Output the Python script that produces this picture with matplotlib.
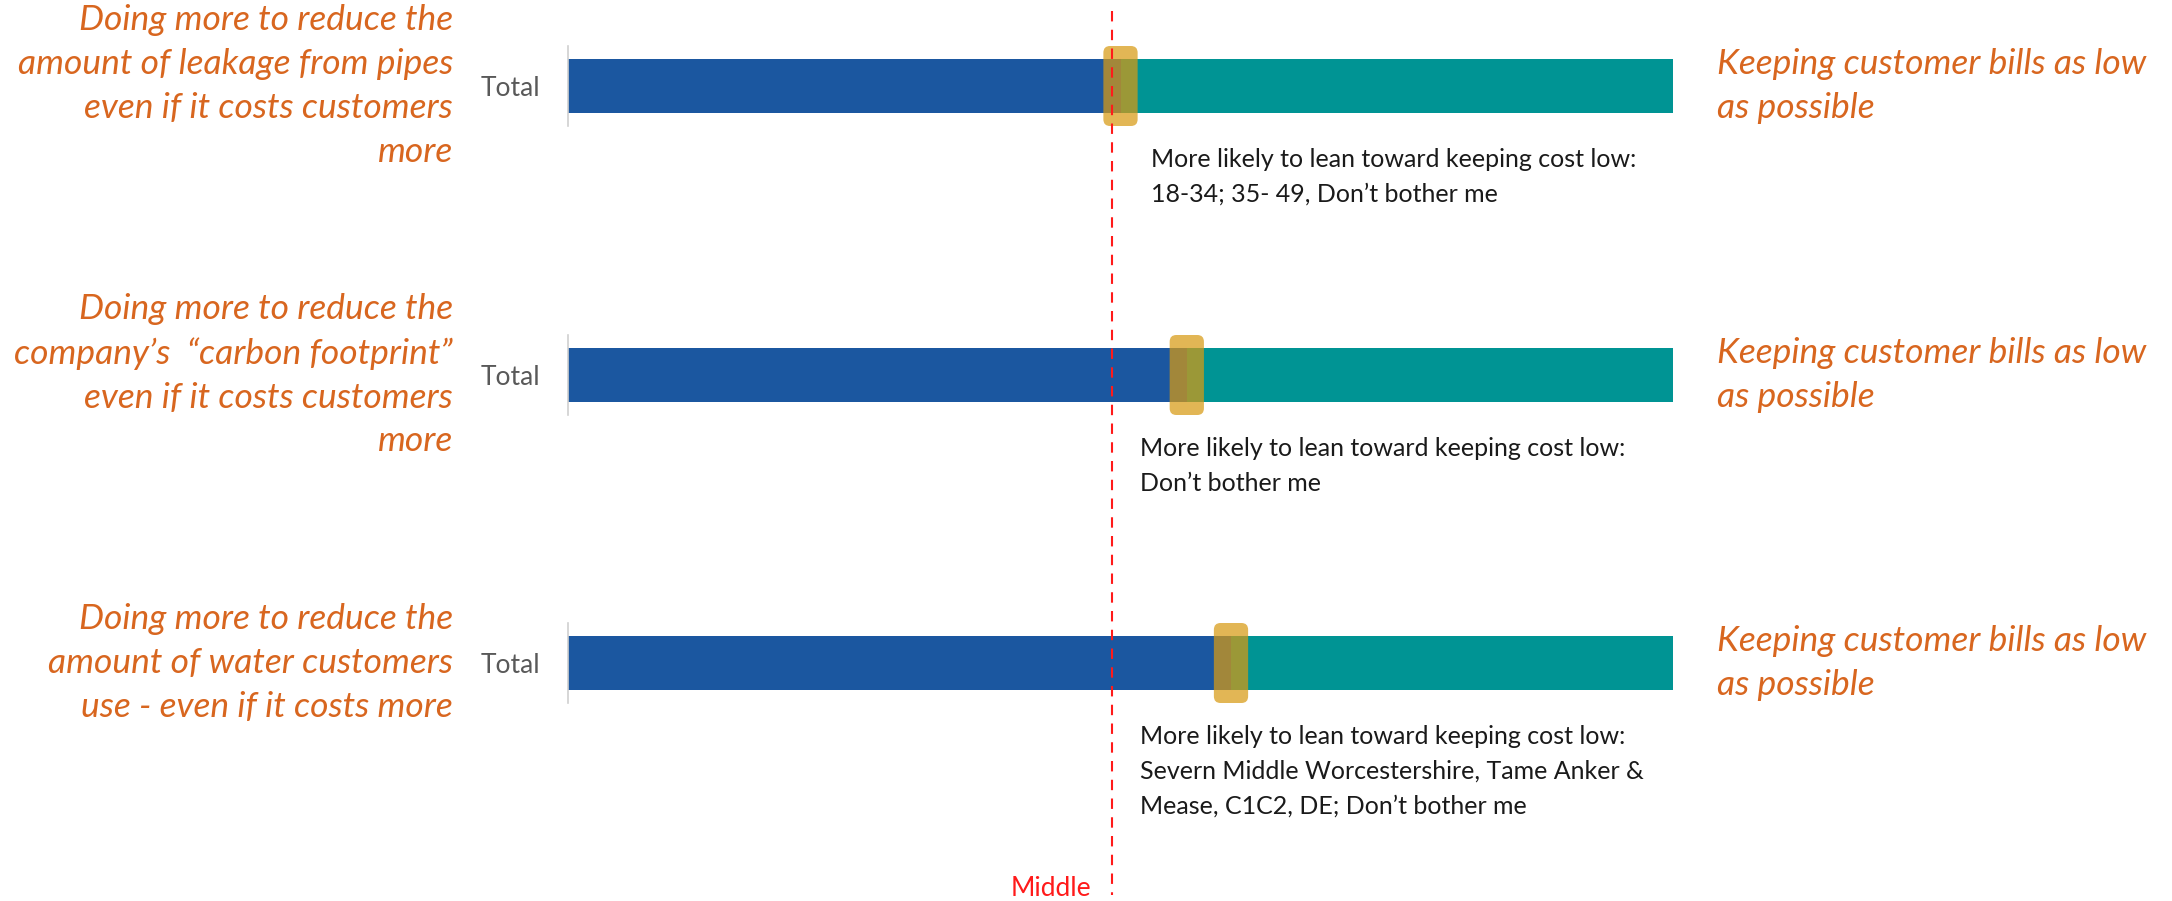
import matplotlib
matplotlib.use("Agg")
import matplotlib.pyplot as plt
from matplotlib.patches import FancyBboxPatch
from matplotlib.lines import Line2D
import matplotlib.transforms as mtransforms

plt.rcParams['font.family'] = ['Lato', 'DejaVu Sans']

# data
left_labels = [
    "Doing more to reduce the\namount of leakage from pipes\neven if it costs customers\nmore",
    "Doing more to reduce the\ncompany\u2019s  \u201ccarbon footprint\u201d\neven if it costs customers\nmore",
    "Doing more to reduce the\namount of water customers\nuse - even if it costs more",
]
right_label = "Keeping customer bills as low\nas possible"
notes = [
    "More likely to lean toward keeping cost low:\n18-34; 35- 49, Don\u2019t bother me",
    "More likely to lean toward keeping cost low:\nDon\u2019t bother me",
    "More likely to lean toward keeping cost low:\nSevern Middle Worcestershire, Tame Anker &\nMease, C1C2, DE; Don\u2019t bother me",
]
reduce_share = [50, 56, 60]      # blue part (%)
bills_share = [50, 44, 40]       # teal part (%)
middle_value = 49.2

BLUE = "#1B57A0"
TEAL = "#009494"
MARK = "#D89A13"
ORANGE = "#D8661F"

W, H = 2172, 901
fig = plt.figure(figsize=(W / 100, H / 100), dpi=100)

centers = [86, 375, 663]          # bar centres in pixels from top
ax_h = 80
ax_left, ax_w = 568, 1105
note_x = [1151, 1140, 1140]

axes = []
for i, c in enumerate(centers):
    ax = fig.add_axes([ax_left / W, (H - c - ax_h / 2) / H, ax_w / W, ax_h / H])
    ax.barh(0, reduce_share[i], height=0.68, color=BLUE)
    ax.barh(0, bills_share[i], left=reduce_share[i], height=0.68, color=TEAL)
    ax.set_xlim(0, 100)
    ax.set_ylim(-0.5, 0.5)
    for s in ["top", "right", "bottom"]:
        ax.spines[s].set_visible(False)
    ax.spines["left"].set_color("#D0D0D0")
    ax.spines["left"].set_linewidth(1.2)
    ax.set_xticks([])
    ax.set_yticks([0])
    ax.set_yticklabels(["Total"], fontsize=19, color="#595959")
    ax.tick_params(axis="y", length=0, pad=20)

    # marker at the split point
    mw = 3.1
    box = FancyBboxPatch((reduce_share[i] - mw / 2, -0.5), mw, 1.0,
                         boxstyle="round,pad=0,rounding_size=0.6",
                         mutation_aspect=0.14, facecolor=MARK, edgecolor="none",
                         alpha=0.72, clip_on=False, zorder=5)
    ax.add_patch(box)

    fig.text(453 / W, (H - c) / H, left_labels[i], ha="right", va="center",
             fontsize=25.5, style="italic", color=ORANGE, linespacing=1.46)
    fig.text(1717 / W, (H - c) / H, right_label, ha="left", va="center",
             fontsize=25.5, style="italic", color=ORANGE, linespacing=1.46)
    fig.text(note_x[i] / W, (H - c - 62) / H, notes[i], ha="left", va="top",
             fontsize=18, color="#1A1A1A", linespacing=1.62)
    axes.append(ax)

# dashed "Middle" line across the whole figure
tr = mtransforms.blended_transform_factory(axes[0].transData, fig.transFigure)
fig.add_artist(Line2D([middle_value, middle_value], [(H - 11) / H, (H - 895) / H],
                      transform=tr, color="#FF1A1A", linestyle=(0, (5, 4)), linewidth=1.5))
fig.text(1091 / W, (H - 888) / H, "Middle", ha="right", va="center",
         fontsize=19, color="#FF1A1A")

fig.savefig("out.png", dpi=100)
